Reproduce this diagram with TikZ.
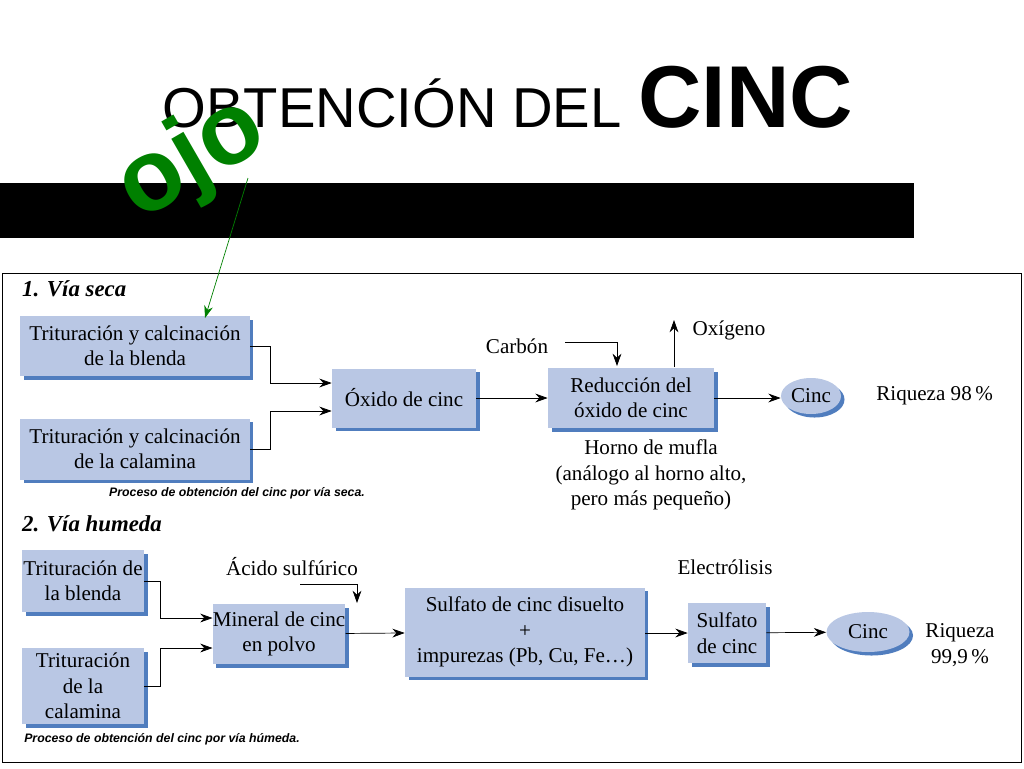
\documentclass[tikz,border=0pt]{standalone}
\usepackage{fontspec}
\setmainfont{Liberation Serif}
\setsansfont{Liberation Sans}
\usetikzlibrary{shadows,arrows.meta,shapes.geometric}
\definecolor{boxblue}{RGB}{185,199,228}
\definecolor{shadeblue}{RGB}{80,125,190}
\definecolor{ojogreen}{RGB}{0,128,0}
\tikzset{
  proc/.style={fill=boxblue, align=center, inner sep=0pt, font=\fontsize{12}{14.5}\selectfont,
    drop shadow={shadow xshift=2pt, shadow yshift=-2pt, fill=shadeblue, opacity=1}},
  flow/.style={-{Stealth[length=7pt,width=5pt]}, thin},
  lbl/.style={font=\fontsize{12}{14.5}\selectfont, align=center},
  capt/.style={font=\sffamily\bfseries\itshape\fontsize{7}{8}\selectfont}
}
\begin{document}
\begin{tikzpicture}[x=0.02cm, y=-0.02cm]
\useasboundingbox (0,0) rectangle (1024,768);
% title
\node[font=\sffamily\fontsize{32}{34}\selectfont, anchor=base east, inner sep=0pt] at (622,127) {OBTENCIÓN DEL};
\node[font=\sffamily\bfseries\fontsize{50}{54}\selectfont, anchor=base west, inner sep=0pt] at (638,127) {CINC};
\fill (0,183) rectangle (914,238);
\node[font=\sffamily\bfseries\fontsize{58}{60}\selectfont, text=ojogreen, rotate=30] (ojo) at (192,160) {ojo};
\draw (2,273) rectangle (1021,762);

% 1. via seca
\node[lbl, font=\bfseries\itshape\fontsize{13}{15}\selectfont, anchor=west] at (16,289) {1. Vía seca};
\node[proc, minimum width=4.6cm, minimum height=1.2cm] (tb) at (135,346) {Trituración y calcinación\\de la blenda};
\node[proc, minimum width=4.6cm, minimum height=1.22cm] (tc) at (135,449) {Trituración y calcinación\\de la calamina};
\node[proc, minimum width=2.88cm, minimum height=1.18cm] (ox) at (404,398) {Óxido de cinc};
\node[proc, minimum width=3.32cm, minimum height=1.2cm] (red) at (631,398) {Reducción del\\óxido de cinc};
\node[proc, ellipse, minimum width=1.2cm, minimum height=0.72cm] (zn1) at (811,396) {Cinc};
\node[lbl, anchor=west, inner sep=0pt] at (876,396) {Riqueza 98\,\%};
\node[lbl] (carb) at (517,346) {Carbón};
\node[lbl] (oxig) at (729,330) {Oxígeno};
\node[lbl] at (651,475) {Horno de mufla\\(análogo al horno alto,\\pero más pequeño)};
\node[capt] at (237,493) {Proceso de obtención del cinc por vía seca.};
\coordinate (oxtop) at (674,320);
\draw[flow] (tb.east) -- ++(20,0) |- ([yshift=0.3cm]ox.west);
\draw[flow] (tc.east) -- ++(20,0) |- ([yshift=-0.26cm]ox.west);
\draw[flow] (ox) -- (red);
\draw[flow] (red.east) -- (red.east -| zn1.west);
\draw[flow] (565,342) -| (617,366);
\draw[flow] (674,367) -- (oxtop);
\draw[flow, ojogreen] (248,178) -- (205,318);

% 2. via humeda
\node[lbl, font=\bfseries\itshape\fontsize{13}{15}\selectfont, anchor=west] at (16,524) {2. Vía humeda};
\node[proc, minimum width=2.44cm, minimum height=1.24cm] (hb) at (83,581) {Trituración de\\la blenda};
\node[proc, minimum width=2.44cm, minimum height=1.52cm] (hc) at (83,686) {Trituración\\de la\\calamina};
\node[proc, minimum width=2.44cm, minimum height=1.2cm] (min) at (279,634) {Mineral de cinc\\en polvo};
\node[proc, minimum width=4.8cm, minimum height=1.78cm] (sd) at (525,632) {Sulfato de cinc disuelto\\+\\impurezas (Pb, Cu, Fe\dots)};
\node[proc, minimum width=1.56cm, minimum height=1.2cm] (sz) at (727,633) {Sulfato\\de cinc};
\node[proc, ellipse, minimum width=1.66cm, minimum height=0.8cm] (zn2) at (868,632) {Cinc};
\node[lbl] at (960,645) {Riqueza\\99,9\,\%};
\node[lbl] (acid) at (292,567) {Ácido sulfúrico};
\node[lbl] (elec) at (725,567) {Electrólisis};
\node[capt] at (162,739) {Proceso de obtención del cinc por vía húmeda.};
\draw[flow] (hb.east) -- ++(16,0) |- ([yshift=0.32cm]min.west);
\draw[flow] (hc.east) -- ++(16,0) |- ([yshift=-0.28cm]min.west);
\draw[flow] (min) -- (sd);
\draw[flow] (sd.east |- sz) -- (sz);
\draw[flow] (sz) -- (zn2);
\draw[flow] (300,584) -| (357,603);
\end{tikzpicture}
\end{document}
